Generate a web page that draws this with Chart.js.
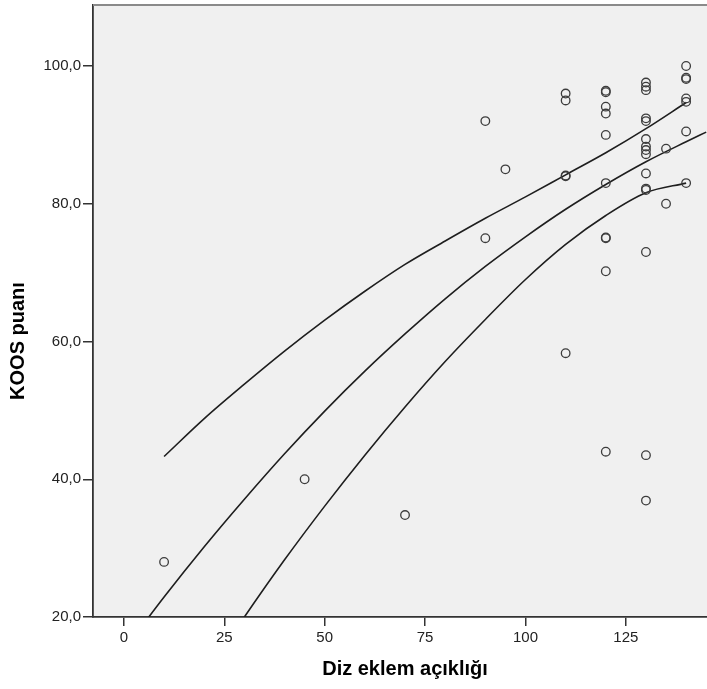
<!DOCTYPE html>
<html>
  <head>
    <title>KOOS puanı</title>
    <script src="https://cdn.jsdelivr.net/npm/chart.js"></script>
    <style>
      body { margin: 0; background: #fff; }
    </style>
  </head>
  <body>
    <canvas id="koos-chart" width="707" height="689"></canvas>

    <script>
      // observed points (Diz eklem açıklığı, KOOS puanı)
      const scatterX = [
        10, 45, 70, 90, 90, 95,
        110, 110, 110, 110, 110,
        120, 120, 120, 120, 120, 120, 120, 120, 120, 120,
        130, 130, 130, 130, 130, 130, 130, 130, 130, 130, 130, 130, 130, 130, 130,
        135, 135,
        140, 140, 140, 140, 140, 140, 140
      ];
      const scatterY = [
        28.0, 40.0, 34.8, 92.0, 75.0, 85.0,
        96.0, 95.0, 84.1, 84.0, 58.3,
        96.4, 96.2, 94.1, 93.1, 90.0, 83.0, 75.1, 75.0, 70.2, 44.0,
        97.6, 97.0, 96.5, 92.4, 92.0, 89.4, 88.3, 87.8, 87.2, 84.4, 82.2, 82.0, 73.0, 43.5, 36.9,
        88.0, 80.0,
        100.0, 98.3, 98.1, 95.3, 94.8, 90.5, 83.0
      ];

      // fit curve and its upper / lower bands
      const fitX = [0, 10, 20, 30, 40, 50, 60, 70, 80, 90, 100, 110, 120, 130, 140, 145];
      const fitY = [15.2, 22.9, 30.2, 37.1, 43.7, 49.9, 55.7, 61.1, 66.2, 70.9, 75.2, 79.2, 82.8, 86.1, 89.0, 90.4];

      const upperX = [10, 20, 30, 40, 50, 60, 70, 80, 90, 100, 110, 120, 130, 140];
      const upperY = [43.3, 48.8, 53.8, 58.6, 63.1, 67.3, 71.2, 74.6, 77.9, 81.0, 84.2, 87.4, 90.9, 94.7];

      const lowerX = [10, 20, 30, 40, 50, 60, 70, 80, 90, 100, 110, 120, 130, 140];
      const lowerY = [2.3, 11.3, 20.0, 28.3, 36.1, 43.5, 50.5, 57.1, 63.2, 69.0, 74.1, 78.3, 81.6, 83.0];

      const xTicks = [0, 25, 50, 75, 100, 125];
      const yTicks = [20, 40, 60, 80, 100];

      const toPoints = (xs, ys) => xs.map((x, i) => ({ x: x, y: ys[i] }));

      const tickFont = { family: "'Liberation Sans', Arial, sans-serif", size: 15 };
      const titleFont = "bold 20px 'Liberation Sans', Arial, sans-serif";

      const lineStyle = {
        showLine: true,
        pointRadius: 0,
        borderColor: "#1e1e1e",
        borderWidth: 1.6,
        cubicInterpolationMode: "monotone",
      };

      // grey plot background, top frame line and the two axis titles
      const plotFrame = {
        id: "plotFrame",
        beforeDraw(chart) {
          const { ctx, chartArea: a } = chart;
          ctx.save();
          ctx.fillStyle = "#f0f0f0";
          ctx.fillRect(a.left, a.top, a.right - a.left, a.bottom - a.top);
          ctx.restore();
        },
        afterDraw(chart) {
          const { ctx, chartArea: a } = chart;
          ctx.save();
          ctx.strokeStyle = "#8a8a8a";
          ctx.lineWidth = 2;
          ctx.beginPath();
          ctx.moveTo(a.left, a.top);
          ctx.lineTo(a.right, a.top);
          ctx.stroke();

          ctx.fillStyle = "#000";
          ctx.font = titleFont;
          ctx.textAlign = "center";
          ctx.textBaseline = "middle";
          ctx.fillText("Diz eklem açıklığı", 405, 669);
          ctx.translate(18, 341);
          ctx.rotate(-Math.PI / 2);
          ctx.fillText("KOOS puanı", 0, 0);
          ctx.restore();
        },
      };

      const noPad = (s) => {
        s.paddingTop = 0;
        s.paddingBottom = 0;
        s.paddingLeft = 0;
        s.paddingRight = 0;
      };

      new Chart(document.getElementById("koos-chart").getContext("2d"), {
        type: "scatter",
        data: {
          datasets: [
            {
              label: "KOOS puanı",
              data: toPoints(scatterX, scatterY),
              pointRadius: 4.3,
              pointBorderWidth: 1.3,
              pointBorderColor: "#3c3c3c",
              pointBackgroundColor: "rgba(0,0,0,0)",
            },
            Object.assign({ label: "fit", data: toPoints(fitX, fitY) }, lineStyle),
            Object.assign({ label: "upper", data: toPoints(upperX, upperY) }, lineStyle),
            Object.assign({ label: "lower", data: toPoints(lowerX, lowerY) }, lineStyle),
          ],
        },
        options: {
          responsive: false,
          animation: false,
          layout: { autoPadding: false, padding: { top: 5, right: 0, bottom: 0, left: 0 } },
          plugins: {
            legend: { display: false },
            tooltip: { enabled: false },
          },
          scales: {
            x: {
              type: "linear",
              min: -7.7,
              max: 145.2,
              afterBuildTicks: (s) => {
                s.ticks = xTicks.map((v) => ({ value: v }));
              },
              afterFit: (s) => {
                s.height = 72;
                noPad(s);
              },
              ticks: {
                font: tickFont,
                color: "#222",
                padding: 3,
                callback: (v) => String(v),
              },
              grid: {
                drawOnChartArea: false,
                drawTicks: true,
                tickLength: 9,
                color: "#333",
                lineWidth: 1.5,
              },
              border: { display: true, color: "#333", width: 1.8 },
            },
            y: {
              type: "linear",
              min: 20,
              max: 108.86,
              afterBuildTicks: (s) => {
                s.ticks = yTicks.map((v) => ({ value: v }));
              },
              afterFit: (s) => {
                s.width = 93;
                noPad(s);
              },
              ticks: {
                font: tickFont,
                color: "#222",
                padding: 2,
                callback: (v) => v.toFixed(1).replace(".", ","),
              },
              grid: {
                drawOnChartArea: false,
                drawTicks: true,
                tickLength: 10,
                color: "#333",
                lineWidth: 1.5,
              },
              border: { display: true, color: "#333", width: 1.8 },
            },
          },
        },
        plugins: [plotFrame],
      });
    </script>
  </body>
</html>
